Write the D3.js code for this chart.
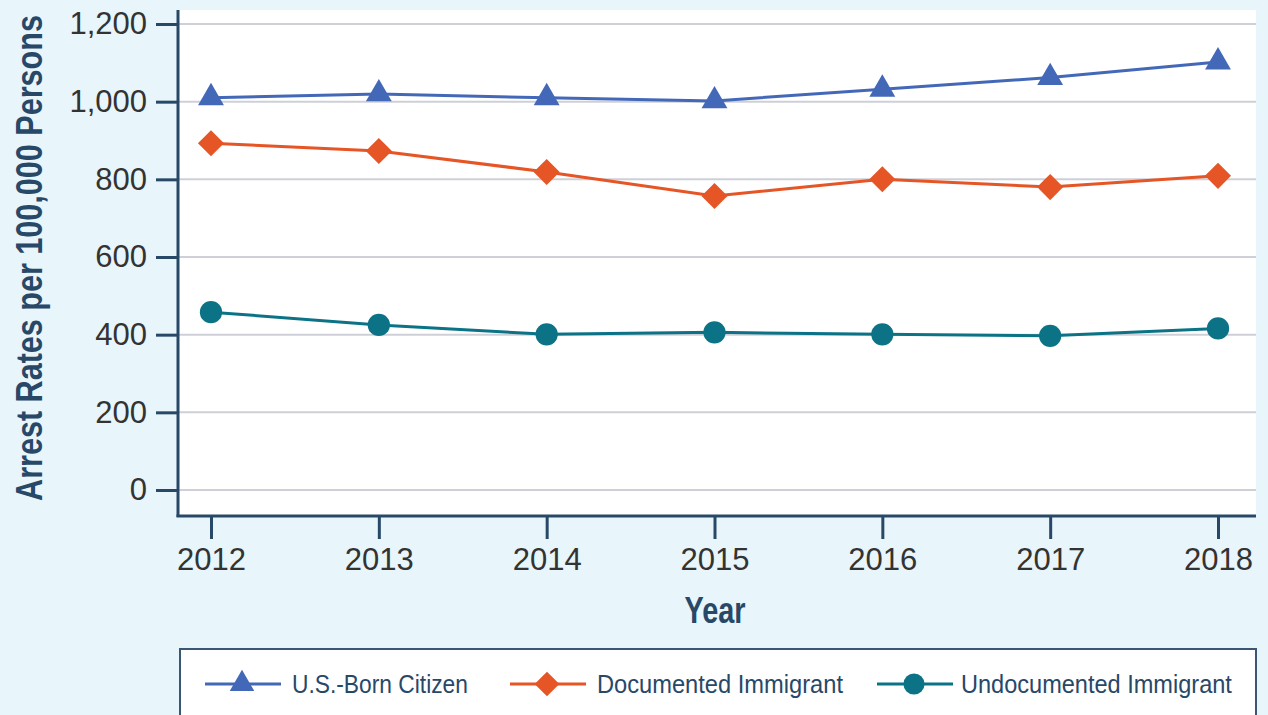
<!DOCTYPE html>
<html>
<head>
<meta charset="utf-8">
<script src="https://cdn.jsdelivr.net/npm/d3@7"></script>
<style>
  body { margin: 0; background: #e8f5fb; }
  svg { display: block; }
  text { font-family: "Liberation Sans", Arial, sans-serif; }
</style>
</head>
<body>
<svg id="chart" width="1268" height="715"></svg>
<script>
var years = [2012, 2013, 2014, 2015, 2016, 2017, 2018];
var yTicks = [0, 200, 400, 600, 800, 1000, 1200];
var seriesNames = ['U.S.-Born Citizen', 'Documented Immigrant', 'Undocumented Immigrant'];
var usBorn = [1010, 1020, 1010, 1002, 1032, 1062, 1102];
var documented = [893, 873, 819, 757, 800, 780, 809];
var undocumented = [458, 425, 401, 406, 401, 397, 416];

drawChart();

// squeeze a text horizontally (in its own frame) to a target width
function squeeze(textSel, width, anchorX) {
  textSel.each(function () {
    var w = this.getComputedTextLength();
    var k = width / w;
    d3.select(this).attr('transform', function () {
      var prev = d3.select(this).attr('transform') || '';
      return prev + ' translate(' + anchorX + ',0) scale(' + k + ',1) translate(' + (-anchorX) + ',0)';
    });
  });
}

function drawChart() {
  var svg = d3.select('#chart');
  var navy = '#284868';
  var colors = ['#4468b8', '#e55525', '#0b7385'];
  var diamond = {
    draw: function (ctx, size) {
      var r = Math.sqrt(size / 2);
      ctx.moveTo(0, -r); ctx.lineTo(r, 0); ctx.lineTo(0, r); ctx.lineTo(-r, 0); ctx.closePath();
    }
  };
  var shapes = [d3.symbolTriangle, diamond, d3.symbolCircle];
  var sizes = [290, 340, 390];
  var allSeries = [usBorn, documented, undocumented];

  var plot = { left: 178, right: 1256, top: 10, bottom: 516 };

  var x = d3.scalePoint().domain(years).range([211, 1218]);
  var y = d3.scaleLinear().domain([0, 1200]).range([490, 24]);

  // white plot area
  svg.append('rect')
    .attr('x', plot.left).attr('y', plot.top)
    .attr('width', plot.right - plot.left).attr('height', plot.bottom - plot.top)
    .attr('fill', '#ffffff');

  // gridlines
  svg.append('g').selectAll('line')
    .data(yTicks).enter().append('line')
    .attr('x1', plot.left).attr('x2', plot.right)
    .attr('y1', d => y(d)).attr('y2', d => y(d))
    .style('stroke', '#cfcfd8').style('stroke-width', 2);

  // y axis
  var yAxis = svg.append('g')
    .attr('transform', 'translate(' + plot.left + ',0)')
    .call(d3.axisLeft(y).tickValues(yTicks).tickSize(22).tickPadding(9).tickFormat(d3.format(',')));
  yAxis.select('.domain').remove();
  yAxis.selectAll('.tick line').style('stroke', navy).style('stroke-width', 3);
  yAxis.selectAll('.tick text').style('font-size', '31px').style('fill', '#333333');
  svg.append('line')
    .attr('x1', plot.left).attr('x2', plot.left)
    .attr('y1', plot.top).attr('y2', plot.bottom + 1)
    .style('stroke', navy).style('stroke-width', 3);

  // x axis
  var xAxis = svg.append('g')
    .attr('transform', 'translate(0,' + plot.bottom + ')')
    .call(d3.axisBottom(x).tickSize(23).tickPadding(9).tickFormat(d3.format('d')));
  xAxis.select('.domain').remove();
  xAxis.selectAll('.tick line').style('stroke', navy).style('stroke-width', 3);
  xAxis.selectAll('.tick text').style('font-size', '31px').style('fill', '#333333');
  svg.append('line')
    .attr('x1', plot.left - 1.5).attr('x2', plot.right)
    .attr('y1', plot.bottom).attr('y2', plot.bottom)
    .style('stroke', navy).style('stroke-width', 3);

  // axis titles
  var yTitle = svg.append('text')
    .attr('transform', 'translate(42,' + 258 + ') rotate(-90)')
    .attr('text-anchor', 'middle')
    .style('font-size', '37px').style('font-weight', 'bold').style('fill', navy)
    .text('Arrest Rates per 100,000 Persons');
  squeeze(yTitle, 486, 0);
  var xTitle = svg.append('text')
    .attr('x', 715).attr('y', 623)
    .attr('text-anchor', 'middle')
    .style('font-size', '37px').style('font-weight', 'bold').style('fill', navy)
    .text('Year');
  squeeze(xTitle, 61, 715);

  // lines and markers
  var line = d3.line()
    .x((d, i) => x(years[i]))
    .y(d => y(d));

  allSeries.forEach(function (values, s) {
    svg.append('path')
      .datum(values)
      .attr('d', line)
      .style('fill', 'none')
      .style('stroke', colors[s])
      .style('stroke-width', 3);

    svg.append('g').selectAll('path')
      .data(values).enter().append('path')
      .attr('d', d3.symbol().type(shapes[s]).size(sizes[s]))
      .attr('transform', (d, i) => 'translate(' + x(years[i]) + ',' + y(d) + ')')
      .style('fill', colors[s]);
  });

  // legend
  svg.append('rect')
    .attr('x', 180).attr('y', 649)
    .attr('width', 1076).attr('height', 80)
    .style('fill', '#ffffff')
    .style('stroke', '#3b5672').style('stroke-width', 2);

  var legendX = [205, 510, 877];
  var legendTextX = [87, 87, 84];
  var legendLen = [176, 246, 271];
  var legend = svg.append('g').selectAll('g')
    .data(seriesNames).enter().append('g')
    .attr('transform', (d, i) => 'translate(' + legendX[i] + ',684)');
  legend.append('line')
    .attr('x1', 0).attr('x2', 76)
    .style('stroke', (d, i) => colors[i]).style('stroke-width', 3);
  legend.append('path')
    .attr('d', (d, i) => d3.symbol().type(shapes[i]).size(sizes[i] * 0.9)())
    .attr('transform', 'translate(37,0)')
    .style('fill', (d, i) => colors[i]);
  legend.append('text')
    .attr('x', (d, i) => legendTextX[i]).attr('y', 9)
    .style('font-size', '26px').style('fill', navy)
    .text(d => d)
    .each(function (d, i) { squeeze(d3.select(this), legendLen[i], legendTextX[i]); });
}
</script>
</body>
</html>
